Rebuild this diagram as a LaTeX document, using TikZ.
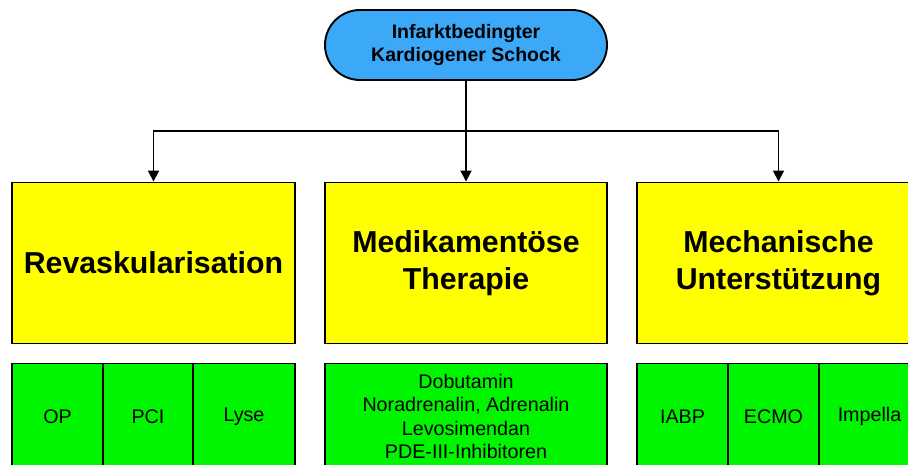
\documentclass[tikz,border=0pt]{standalone}
\usepackage{fontspec}
\setmainfont{Liberation Sans}
\usetikzlibrary{arrows.meta}
\definecolor{shockblue}{RGB}{59,168,248}
\definecolor{boxyellow}{RGB}{255,255,0}
\definecolor{boxgreen}{RGB}{0,245,0}
\tikzset{
  frame/.style={draw=black, line width=1.9pt},
  headnode/.style={frame, fill=shockblue, minimum width=282pt, minimum height=70pt,
    rounded corners=35pt, align=center, inner sep=0pt,
    font=\fontsize{19.5}{23}\selectfont\bfseries},
  areabox/.style={frame, fill=boxyellow, minimum width=283pt, minimum height=161pt,
    align=center, inner sep=0pt, font=\fontsize{30.3}{37}\selectfont\bfseries},
  itembox/.style={frame, fill=boxgreen, minimum height=106pt, align=center,
    inner sep=0pt, font=\fontsize{19.7}{23.3}\selectfont},
  link/.style={line width=1.8pt},
  arrowlink/.style={link, -{Triangle[width=11pt,length=11pt]}},
}
\begin{document}
\begin{tikzpicture}[x=1pt,y=1pt]
\useasboundingbox (0,0) rectangle (908,-464);
\clip (0,0) rectangle (908,-464);

% root of the tree
\node[headnode] (shock) at (466,-45) {Infarktbedingter\\Kardiogener Schock};

% three treatment areas
\node[areabox] (revask) at (153.5,-263) {Revaskularisation};
\node[areabox, minimum width=282pt] (medik) at (466,-263) {Medikamentöse\\Therapie};
\node[areabox] (mech) at (778.5,-263) {Mechanische\\Unterstützung};

% options under revascularisation
\node[itembox, minimum width=91pt] (op) at (57.5,-416.5) {OP};
\node[itembox, minimum width=90pt] (pci) at (148,-416.5) {PCI};
\node[itembox, minimum width=102pt] (lyse) at (244,-416.5) {Lyse};

% drugs
\node[itembox, minimum width=282pt] (drugs) at (466,-416.5)
  {Dobutamin\\Noradrenalin, Adrenalin\\Levosimendan\\PDE-III-Inhibitoren};

% mechanical support devices
\node[itembox, minimum width=91pt] (iabp) at (682.5,-416.5) {IABP};
\node[itembox, minimum width=91pt] (ecmo) at (773.5,-416.5) {ECMO};
\node[itembox, minimum width=101pt] (impella) at (869.5,-416.5) {Impella};

% connectors
\coordinate (split) at (466,-131);
\draw[link, line width=2.6pt] (shock.south) -- (split);
\draw[arrowlink] (split) -| (revask.north);
\draw[arrowlink] (split) -- (medik.north);
\draw[arrowlink] (split) -| (mech.north);
\end{tikzpicture}
\end{document}
